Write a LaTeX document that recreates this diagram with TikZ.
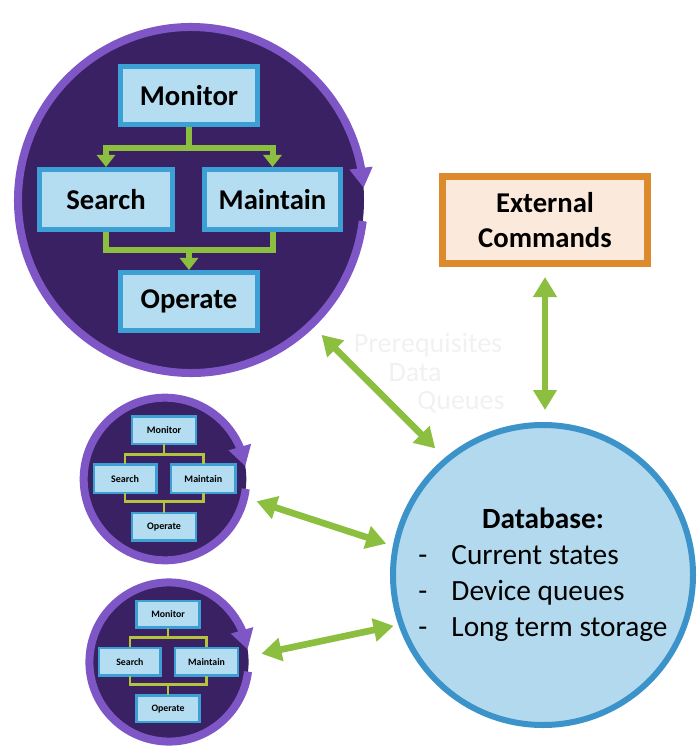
\documentclass[tikz,border=0pt]{standalone}
\usepackage{fontspec}
\setmainfont{Carlito}
\usetikzlibrary{arrows.meta,bending}
\definecolor{deeppurple}{HTML}{3A2163}
\definecolor{ringpurple}{HTML}{7E56C6}
\definecolor{boxfill}{HTML}{B5DDF1}
\definecolor{boxline}{HTML}{3DA0D4}
\definecolor{flowgreen}{HTML}{8CBF3F}
\definecolor{flowyellow}{HTML}{B3C43C}
\definecolor{extline}{HTML}{DC8A2C}
\definecolor{extfill}{HTML}{FBEADB}
\definecolor{dbfill}{HTML}{B3D9EE}
\definecolor{dbline}{HTML}{3B93CA}
\definecolor{ghost}{HTML}{F1F1F1}
\tikzset{
  bigflow/.style={draw=flowgreen, -{Triangle[width=0pt 3,length=0pt 2]}},
  smallflow/.style={draw=flowyellow, -},
  link/.style={draw=flowgreen, line width=5pt, {Triangle[width=17pt,length=15pt]}-{Triangle[width=17pt,length=15pt]}},
  ghosttext/.style={text=ghost, inner sep=0pt, font=\fontsize{21}{25}\selectfont},
  pics/agent/.style args={#1/#2/#3/#4}{code={
    \begin{scope}[scale=#1]
      \node[circle, fill=deeppurple, minimum size=259.5pt, inner sep=0pt, outer sep=0pt, transform shape] (-c) at (0,0) {};
      \draw[ringpurple, line width=6pt, -{Triangle[width=16.5pt,length=15pt]}] (7:173) arc[start angle=7, end angle=#2, radius=173];
      \begin{scope}[every node/.style={transform shape, draw=boxline, fill=boxfill, line width=#1*3.75pt, font=\bfseries\fontsize{#3}{#3}\selectfont, inner sep=0pt, minimum width=102.5pt}]
        \node[minimum height=43.5pt] (-mon) at (-2,-104) {Monitor};
        \node[minimum height=45pt, minimum width=100pt] (-sea) at (-85,-0.5) {Search};
        \node[minimum height=45pt] (-mai) at (81.5,-0.5) {Maintain};
        \node[minimum height=43.5pt] (-ope) at (-2,101.5) {Operate};
      \end{scope}
      \draw[#4, -, line width=#1*4.5pt] (-mon.south) -- ++(0,21) coordinate (-t);
      \draw[#4, line width=#1*4.5pt] (-t) -| (-sea.north);
      \draw[#4, line width=#1*4.5pt] (-t) -| (-mai.north);
      \draw[#4, -, line width=#1*4.5pt] (-sea.south) -- ++(0,18) coordinate (-b) -| (-mai.south);
      \draw[#4, line width=#1*4.5pt] (-b -| -ope.north) -- (-ope.north);
    \end{scope}
  }}
}
\begin{document}
\begin{tikzpicture}[x=0.75pt, y=-0.75pt]
\useasboundingbox (0,0) rectangle (699,748);
\pic (A) at (191,200) {agent=1/356/21.5/bigflow};
\pic (B) at (165,479) {agent=0.47/351/16/smallflow};
\pic (C) at (169,662) {agent=0.46/351/16/smallflow};

\node[draw=extline, fill=extfill, line width=4.9pt, minimum width=154pt, minimum height=65.6pt, align=center, font=\bfseries\fontsize{21.5}{26}\selectfont] (ext) at (545,220) {External\\Commands};

\node[circle, draw=dbline, fill=dbfill, line width=4.5pt, minimum size=225pt, inner sep=0pt, font=\fontsize{22}{27}\selectfont] (db) at (543,575)
  {\begin{tabular}{@{}p{24.75pt}@{}l@{}}\multicolumn{2}{c}{\textbf{Database:}}\\ - & Current states\\ - & Device queues\\ - & Long term storage\end{tabular}};

\node[ghosttext] (g1) at (428,345) {Prerequisites};
\node[ghosttext] (g2) at (415,373) {Data};
\node[ghosttext] (g3) at (461,402) {Queues};

\draw[link, shorten <=11pt, shorten >=10pt] (A-c.-46) -- (db.130);
\draw[link, shorten <=9.75pt, shorten >=5.25pt] (B-c.-13) -- (db.169);
\draw[link, shorten <=10pt, shorten >=3.6pt] (C-c.4) -- (db.199);
\draw[link, shorten <=7.5pt, shorten >=9pt] (ext.south) -- (ext.south |- db.north);
\end{tikzpicture}
\end{document}
